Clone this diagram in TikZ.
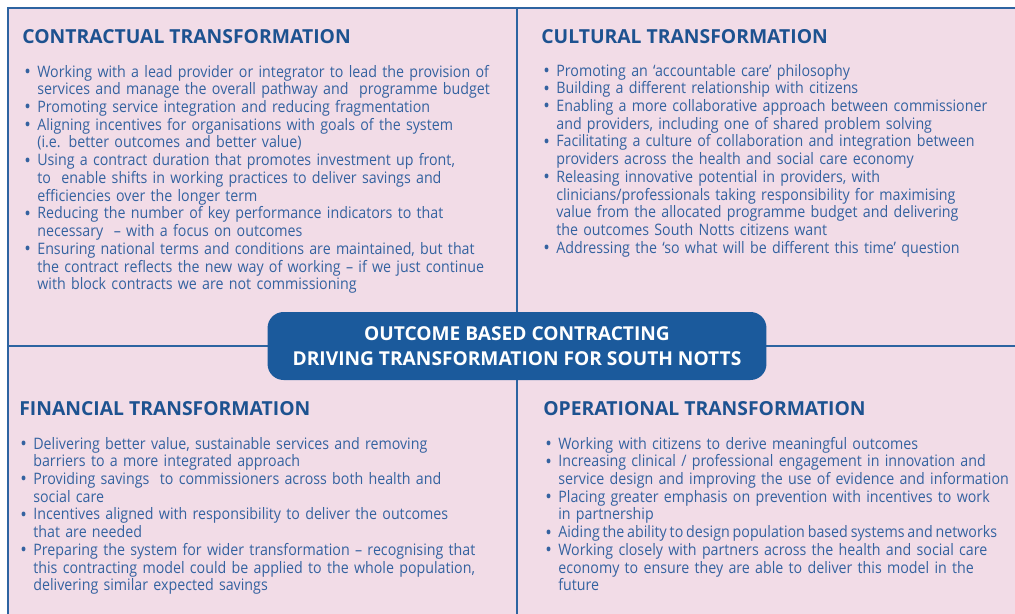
\documentclass[tikz,border=0pt]{standalone}
\usepackage{fontspec}
\setmainfont{Open Sans}
\newfontfamily\bodyfont{Open Sans}[FakeStretch=0.9,Ligatures=TeX]
\usetikzlibrary{positioning}

\definecolor{bgpink}{HTML}{F2DCE7}
\definecolor{lineblue}{HTML}{2D64A1}
\definecolor{boxblue}{HTML}{1B5A9C}
\definecolor{headblue}{HTML}{1D5290}
\definecolor{textblue}{HTML}{3462A0}

% one bullet point, hanging indent for the wrapped lines
\newcommand\bul[1]{\noindent\hangindent=0.26cm\hangafter=1\makebox[0.26cm][l]{\raisebox{-0.15ex}{\fontsize{11}{11}\selectfont\textbullet}}#1\par}

\tikzset{
  frameline/.style={draw=lineblue,line width=1.4pt},
  heading/.style={anchor=base west,inner sep=0pt,text=headblue,font=\fontsize{11}{13}\selectfont\bfseries},
  points/.style={anchor=base west,inner sep=0pt,text width=12cm,align=left,text=textblue,font=\bodyfont\fontsize{9}{10.1}\selectfont},
  banner/.style={rectangle,rounded corners=0.32cm,fill=boxblue,text=white,align=center,inner sep=0pt,
    minimum width=9.98cm,minimum height=1.36cm,font=\fontsize{10.9}{14.2}\selectfont\bfseries}
}

\begin{document}
\begin{tikzpicture}[x=0.02cm,y=-0.02cm]
\useasboundingbox (0,0) rectangle (1015,613);
\clip (0,0) rectangle (1015,613);

\fill[bgpink] (8,8) rectangle (1030,630);
\draw[frameline] (1030,8) -- (8,8) -- (8,630);
\draw[frameline] (517,8) -- (517,630);
\draw[frameline] (8,346) -- (1030,346);

\node[heading] (contract) at (22,43) {CONTRACTUAL TRANSFORMATION};
\node[points] (contractpts) at (24,77) {%
\bul{Working with a lead provider or integrator to lead the provision of\newline services and manage the overall pathway and\ \ programme budget}
\bul{Promoting service integration and reducing fragmentation}
\bul{Aligning incentives for organisations with goals of the system\newline (i.e. better outcomes and better value)}
\bul{Using a contract duration that promotes investment up front,\newline to\ \ enable shifts in working practices to deliver savings and\newline efficiencies over the longer term}
\bul{Reducing the number of key performance indicators to that\newline necessary\ \ – with a focus on outcomes}
\bul{Ensuring national terms and conditions are maintained, but that\newline the contract reflects the new way of working – if we just continue\newline with block contracts we are not commissioning}};

\node[heading] (cultural) at (541,43) {CULTURAL TRANSFORMATION};
\node[points] (culturalpts) at (543,76) {%
\bul{Promoting an ‘accountable care’ philosophy}
\bul{Building a different relationship with citizens}
\bul{Enabling a more collaborative approach between commissioner\newline and providers, including one of shared problem solving}
\bul{Facilitating a culture of collaboration and integration between\newline providers across the health and social care economy}
\bul{Releasing innovative potential in providers, with\newline clinicians/professionals taking responsibility for maximising\newline value from the allocated programme budget and delivering\newline the outcomes South Notts citizens want}
\bul{Addressing the ‘so what will be different this time’ question}};

\node[heading] (financial) at (19,415) {FINANCIAL TRANSFORMATION};
\node[points] (financialpts) at (20,449) {%
\bul{Delivering better value, sustainable services and removing\newline barriers to a more integrated approach}
\bul{Providing savings\ \ to commissioners across both health and\newline social care}
\bul{Incentives aligned with responsibility to deliver the outcomes\newline that are needed}
\bul{Preparing the system for wider transformation – recognising that\newline this contracting model could be applied to the whole population,\newline delivering similar expected savings}};

\node[heading] (operational) at (543,415) {OPERATIONAL TRANSFORMATION};
\node[points] (operationalpts) at (545,449) {%
\bul{Working with citizens to derive meaningful outcomes}
\bul{Increasing clinical / professional engagement in innovation and\newline service design and improving the use of evidence and information}
\bul{Placing greater emphasis on prevention with incentives to work\newline in partnership}
\bul{{\spaceskip=0.18em Aiding the ability to design population based systems and networks}}
\bul{Working closely with partners across the health and social care\newline economy to ensure they are able to deliver this model in the\newline future}};

\node[banner] (outcome) at (517,346) {OUTCOME BASED CONTRACTING\\DRIVING TRANSFORMATION FOR SOUTH NOTTS};
\end{tikzpicture}
\end{document}
